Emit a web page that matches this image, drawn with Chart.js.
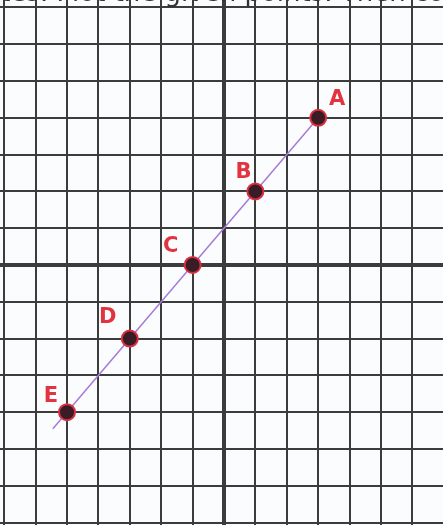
<!DOCTYPE html>
<html>
<head>
<meta charset="utf-8">
<script src="https://cdn.jsdelivr.net/npm/chart.js@4.4.1/dist/chart.umd.min.js"></script>
<style>
  html, body { margin: 0; padding: 0; background: #fbfcfd; }
  #wrap { width: 443px; height: 525px; position: relative; }
</style>
</head>
<body>
<div id="wrap"><canvas id="grafica"></canvas></div>
<script>
// Datos de los puntos
const etiquetas = ['A', 'B', 'C', 'D', 'E'];
const puntosX = [3, 1, -1, -3, -5];
const puntosY = [4, 2, 0, -2, -4];

// Recta que une los puntos (y = x + 1)
const rectaX = [-5.45, 3];
const rectaY = [-4.45, 4];

// Marcas de la cuadricula
const marcas = [-7, -6, -5, -4, -3, -2, -1, 0, 1, 2, 3, 4, 5, 6, 7];

const encabezado = 'dinates. Plot the given points. Then connect';

// Desplazamiento de las letras respecto al punto (px)
const desplazaLetra = [[19, -18], [-12, -19], [-22, -18], [-22, -21], [-16, -16]];

const gridColor = '#3c3c3c';

const pluginLetras = {
  id: 'letras',
  afterDatasetsDraw(chart) {
    const ctx = chart.ctx;
    const sx = chart.scales.x, sy = chart.scales.y;
    ctx.save();
    ctx.fillStyle = '#e23340';
    ctx.font = 'bold 21px "DejaVu Sans"';
    ctx.textAlign = 'center';
    ctx.textBaseline = 'middle';
    etiquetas.forEach((t, i) => {
      const px = sx.getPixelForValue(puntosX[i]) + desplazaLetra[i][0];
      const py = sy.getPixelForValue(puntosY[i]) + desplazaLetra[i][1];
      ctx.fillText(t, px, py);
    });
    // texto del enunciado, cortado por el borde superior
    ctx.fillStyle = '#333';
    ctx.font = '26px "DejaVu Sans"';
    ctx.textAlign = 'left';
    ctx.textBaseline = 'alphabetic';
    ctx.fillText(encabezado, -56, 1);
    ctx.restore();
  }
};

const ejeSinTamano = axis => {
  if (axis.isHorizontal()) axis.height = 0; else axis.width = 0;
};

new Chart(document.getElementById('grafica'), {
  type: 'scatter',
  data: {
    datasets: [
      {
        type: 'line',
        data: rectaX.map((x, i) => ({ x: x, y: rectaY[i] })),
        borderColor: '#a57ad8',
        borderWidth: 1.5,
        pointRadius: 0,
        fill: false,
        order: 2
      },
      {
        data: puntosX.map((x, i) => ({ x: x, y: puntosY[i] })),
        backgroundColor: '#3a1c26',
        borderColor: '#d8303e',
        borderWidth: 2,
        pointRadius: 8,
        order: 1
      }
    ]
  },
  options: {
    responsive: true,
    maintainAspectRatio: false,
    animation: false,
    layout: { padding: 0, autoPadding: false },
    plugins: { legend: { display: false }, tooltip: { enabled: false } },
    scales: {
      x: {
        type: 'linear',
        min: -7.134,
        max: 6.975,
        afterBuildTicks: axis => { axis.ticks = marcas.map(v => ({ value: v })); },
        afterFit: ejeSinTamano,
        ticks: { display: false },
        border: { display: false },
        grid: {
          drawTicks: false,
          color: gridColor,
          lineWidth: c => (c.tick && c.tick.value === 0 ? 4 : 2)
        }
      },
      y: {
        type: 'linear',
        min: -7.065,
        max: 7.2,
        afterBuildTicks: axis => { axis.ticks = marcas.map(v => ({ value: v })); },
        afterFit: ejeSinTamano,
        ticks: { display: false },
        border: { display: false },
        grid: {
          drawTicks: false,
          color: gridColor,
          lineWidth: c => (c.tick && c.tick.value === 0 ? 4 : 2)
        }
      }
    }
  },
  plugins: [pluginLetras]
});
</script>
</body>
</html>
